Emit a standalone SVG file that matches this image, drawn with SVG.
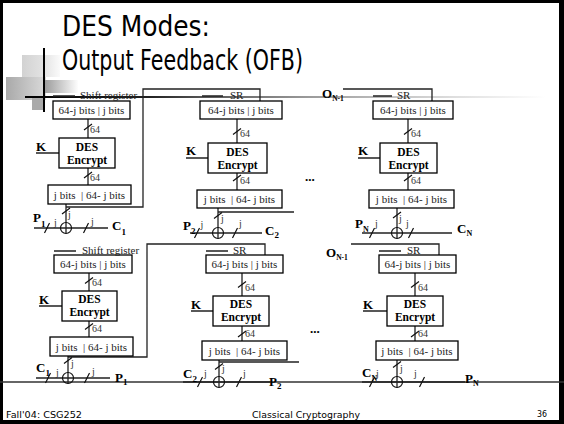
<svg xmlns="http://www.w3.org/2000/svg" width="564" height="424" viewBox="0 0 564 424">
<defs>
<linearGradient id="hl" gradientUnits="userSpaceOnUse" x1="25" y1="0" x2="545" y2="0">
<stop offset="0" stop-color="#000"/><stop offset="0.24" stop-color="#222"/><stop offset="0.34" stop-color="#555"/><stop offset="0.54" stop-color="#999"/><stop offset="0.82" stop-color="#ddd"/><stop offset="1" stop-color="#fff"/>
</linearGradient>
<linearGradient id="gA" x1="0" y1="0" x2="1" y2="0"><stop offset="0" stop-color="#d2d2d2"/><stop offset="0.55" stop-color="#e2e2e2"/><stop offset="1" stop-color="#fafafa"/></linearGradient>
<linearGradient id="gB" x1="0" y1="0" x2="1" y2="0"><stop offset="0" stop-color="#a9a9a9"/><stop offset="1" stop-color="#dadada"/></linearGradient>
<linearGradient id="gC" x1="0" y1="0" x2="1" y2="0"><stop offset="0" stop-color="#9a9a9a"/><stop offset="1" stop-color="#fdfdfd"/></linearGradient>
</defs>
<style>
.box{fill:#fff;stroke:#000;stroke-width:1.3}
.ln{fill:none;stroke:#222;stroke-width:1.3}
.sl{fill:none;stroke:#111;stroke-width:1.2}
.t{font-family:"Liberation Serif",serif;font-size:11px;fill:#222}
.n{font-family:"Liberation Serif",serif;font-size:10px;fill:#333}
.b{font-family:"Liberation Serif",serif;font-weight:bold;font-size:13px;fill:#000}
.d{font-family:"Liberation Serif",serif;font-weight:bold;font-size:11.5px;fill:#000}
.ttl{font-family:"DejaVu Sans",sans-serif;font-size:28px;fill:#000}
.ft{font-family:"DejaVu Sans",sans-serif;font-size:9.5px;fill:#000}
</style>
<rect x="0" y="0" width="564" height="424" fill="#000"/>
<rect x="3" y="3" width="556" height="417" fill="#fff"/>
<g id="decor">
<rect x="22" y="55" width="38" height="22" fill="url(#gA)"/>
<rect x="6" y="77" width="40" height="23" fill="url(#gB)"/>
<rect x="44" y="80" width="34" height="13" fill="url(#gC)"/>
<rect x="32" y="97" width="13" height="13" fill="#aaa"/>
<line x1="44" y1="48" x2="44" y2="112" stroke="#000" stroke-width="2"/>
<line x1="25" y1="97" x2="545" y2="97" stroke="url(#hl)" stroke-width="1.8"/>
<line x1="0" y1="382" x2="564" y2="382" stroke="#333" stroke-width="1.3"/>
</g>
<text class="ttl" x="62" y="36" textLength="148" lengthAdjust="spacingAndGlyphs">DES Modes:</text>
<text class="ttl" x="62" y="70" textLength="241" lengthAdjust="spacingAndGlyphs">Output Feedback (OFB)</text>
<text class="ft" x="6" y="418" textLength="76" lengthAdjust="spacingAndGlyphs">Fall'04: CSG252</text>
<text class="ft" x="252" y="418" textLength="108" lengthAdjust="spacingAndGlyphs">Classical Cryptography</text>
<text class="ft" x="537" y="417" textLength="10" lengthAdjust="spacingAndGlyphs">36</text>

<g id="connectors">
<path class="ln" d="M53 96H75M88 119V138M88 168V185M36 153H59M66 204V233.5M66 207H143V89H260V101M34 228H108"/>
<path class="sl" d="M84 130L92 124M84 178L92 172M62 214L70 208M44.5 233L49.5 223M83.5 233L88.5 223"/>
<path class="ln" d="M202 96H223M237 119V143M237 173V190M186 158H208M218 208V238.5M218 212H294M190 233H262"/>
<path class="sl" d="M233 134.5L241 128.5M233 181L241 175M214 218.5L222 212.5M194.5 238L199.5 228M232.5 238L237.5 228"/>
<path class="ln" d="M343 89H432V101M373 96H392M408 119V143M408 173V190M358 158H380M397 208V238.5M362 233H452"/>
<path class="sl" d="M404 134.5L412 128.5M404 181L412 175M393 218L401 212M369.5 238L374.5 228M408.5 238L413.5 228"/>
<path class="ln" d="M54 251H76M89 273V291M89 321V337M39 306H62M68 356V383.5M68 357H147V244H265V255M36 378H110"/>
<path class="sl" d="M85 283.5L93 277.5M85 329.5L93 323.5M64 363.5L72 357.5M45.5 383L50.5 373M84.5 383L89.5 373"/>
<path class="ln" d="M206 251H228M242 273V296M242 326V341M191 311H213M219 360V387.5M219 362H299M183 382H270"/>
<path class="sl" d="M238 287.5L246 281.5M238 337L246 331M215 369.5L223 363.5M197.5 387L202.5 377M236.5 387L241.5 377"/>
<path class="ln" d="M351 244H439V255M379 251H401M415 273V296M415 326V341M363 311H387M397 360V387.5M362 382H465"/>
<path class="sl" d="M411 287.5L419 281.5M411 337L419 331M393 367.5L401 361.5M369.5 387L374.5 377M419.5 387L424.5 377"/>
<g class="n">
<text x="90" y="133">64</text><text x="90" y="181">64</text><text x="68" y="218">j</text>
<text x="54" y="226">j</text><text x="91" y="225">j</text>
<text x="240" y="136.5">64</text><text x="240" y="184">64</text><text x="221" y="222">j</text>
<text x="200.5" y="228">j</text><text x="239" y="227">j</text>
<text x="411" y="136.5">64</text><text x="411" y="184">64</text><text x="399" y="222">j</text>
<text x="375" y="227">j</text><text x="406" y="227">j</text>
<text x="92" y="286">64</text><text x="92" y="332">64</text><text x="71" y="367">j</text>
<text x="56" y="376">j</text><text x="92" y="375">j</text>
<text x="245" y="291">64</text><text x="245" y="337">64</text><text x="222" y="372">j</text>
<text x="204" y="377">j</text><text x="243" y="377">j</text>
<text x="418" y="291">64</text><text x="418" y="337">64</text><text x="400" y="372">j</text>
<text x="376" y="377">j</text><text x="414" y="377">j</text>
</g>
</g>

<g id="p1-sr"><rect class="box" x="53" y="101" width="77" height="18"/><text class="t" x="91.5" y="114" text-anchor="middle">64-j bits | j bits</text><text class="t" x="80" y="99">Shift register</text></g>
<g id="p1-des"><rect class="box" x="59" y="138" width="56" height="30"/><text class="d" text-anchor="middle"><tspan x="87" y="150.5">DES</tspan><tspan x="87" y="163.5">Encrypt</tspan></text></g>
<g id="p1-out"><rect class="box" x="48" y="185" width="83" height="19"/><text class="t" x="89.5" y="199" text-anchor="middle" xml:space="preserve">j bits  | 64- j bits</text></g>
<g id="p1-xor"><circle cx="66" cy="228" r="5.5" fill="none" stroke="#111" stroke-width="1.2"/></g>
<g id="p1-labels"><text class="b" x="36" y="151">K</text><text class="b" x="33" y="222">P<tspan font-size="9" dy="5">1</tspan></text><text class="b" x="112" y="230">C<tspan font-size="9" dy="5">1</tspan></text></g>

<g id="p2-sr"><rect class="box" x="200" y="101" width="82" height="18"/><text class="t" x="241" y="114" text-anchor="middle">64-j bits | j bits</text><text class="t" x="230" y="99">SR</text></g>
<g id="p2-des"><rect class="box" x="208" y="143" width="59" height="30"/><text class="d" text-anchor="middle"><tspan x="237.5" y="155.5">DES</tspan><tspan x="237.5" y="168.5">Encrypt</tspan></text></g>
<g id="p2-out"><rect class="box" x="197" y="190" width="85" height="18"/><text class="t" x="239.5" y="203" text-anchor="middle" xml:space="preserve">j bits  | 64- j bits</text></g>
<g id="p2-xor"><circle cx="218" cy="233" r="5.5" fill="none" stroke="#111" stroke-width="1.2"/></g>
<g id="p2-labels"><text class="b" x="186" y="155">K</text><text class="b" x="183" y="230">P<tspan font-size="9" dy="4">2</tspan></text><text class="b" x="265" y="235">C<tspan font-size="9" dy="3">2</tspan></text></g>

<g id="p3-sr"><rect class="box" x="373" y="101" width="80" height="18"/><text class="t" x="413" y="114" text-anchor="middle">64-j bits | j bits</text><text class="t" x="397" y="99">SR</text></g>
<g id="p3-des"><rect class="box" x="380" y="143" width="57" height="30"/><text class="d" text-anchor="middle"><tspan x="408.5" y="155.5">DES</tspan><tspan x="408.5" y="168.5">Encrypt</tspan></text></g>
<g id="p3-out"><rect class="box" x="369" y="190" width="85" height="18"/><text class="t" x="411.5" y="203" text-anchor="middle" xml:space="preserve">j bits  | 64- j bits</text></g>
<g id="p3-xor"><circle cx="397" cy="233" r="5.5" fill="none" stroke="#111" stroke-width="1.2"/></g>
<g id="p3-labels"><text class="b" x="358" y="155">K</text><text class="b" x="322" y="98">O<tspan font-size="7.5" dy="2.5">N-1</tspan></text><text class="b" x="355" y="228">P<tspan font-size="8" dy="4">N</tspan></text><text class="b" x="457" y="233">C<tspan font-size="8" dy="3">N</tspan></text><text class="b" x="305" y="181">...</text></g>

<g id="p4-sr"><rect class="box" x="54" y="255" width="78" height="18"/><text class="t" x="93" y="268" text-anchor="middle">64-j bits | j bits</text><text class="t" x="82" y="254">Shift register</text></g>
<g id="p4-des"><rect class="box" x="62" y="291" width="55" height="30"/><text class="d" text-anchor="middle"><tspan x="89.5" y="303">DES</tspan><tspan x="89.5" y="316">Encrypt</tspan></text></g>
<g id="p4-out"><rect class="box" x="50" y="337" width="83" height="19"/><text class="t" x="91.5" y="350.5" text-anchor="middle" xml:space="preserve">j bits  | 64- j bits</text></g>
<g id="p4-xor"><circle cx="68" cy="378" r="5.5" fill="none" stroke="#111" stroke-width="1.2"/></g>
<g id="p4-labels"><text class="b" x="39" y="303.5">K</text><text class="b" x="36" y="372">C<tspan font-size="9" dy="4">1</tspan></text><text class="b" x="115" y="382">P<tspan font-size="9" dy="3">1</tspan></text></g>

<g id="p5-sr"><rect class="box" x="206" y="255" width="77" height="18"/><text class="t" x="244.5" y="268" text-anchor="middle">64-j bits | j bits</text><text class="t" x="233" y="254">SR</text></g>
<g id="p5-des"><rect class="box" x="213" y="296" width="56" height="30"/><text class="d" text-anchor="middle"><tspan x="241" y="308">DES</tspan><tspan x="241" y="321">Encrypt</tspan></text></g>
<g id="p5-out"><rect class="box" x="202" y="341" width="85" height="19"/><text class="t" x="244.5" y="354.5" text-anchor="middle" xml:space="preserve">j bits  | 64- j bits</text></g>
<g id="p5-xor"><circle cx="219" cy="382" r="5.5" fill="none" stroke="#111" stroke-width="1.2"/></g>
<g id="p5-labels"><text class="b" x="191" y="308.5">K</text><text class="b" x="183" y="378">C<tspan font-size="9" dy="4">2</tspan></text><text class="b" x="269" y="386">P<tspan font-size="9" dy="3">2</tspan></text></g>

<g id="p6-sr"><rect class="box" x="379" y="255" width="77" height="18"/><text class="t" x="417.5" y="268" text-anchor="middle">64-j bits | j bits</text><text class="t" x="407" y="254">SR</text></g>
<g id="p6-des"><rect class="box" x="387" y="296" width="56" height="30"/><text class="d" text-anchor="middle"><tspan x="415" y="308">DES</tspan><tspan x="415" y="321">Encrypt</tspan></text></g>
<g id="p6-out"><rect class="box" x="376" y="341" width="82" height="19"/><text class="t" x="417" y="354.5" text-anchor="middle" xml:space="preserve">j bits  | 64- j bits</text></g>
<g id="p6-xor"><circle cx="397" cy="382" r="5.5" fill="none" stroke="#111" stroke-width="1.2"/></g>
<g id="p6-labels"><text class="b" x="363" y="308.5">K</text><text class="b" x="326" y="257">O<tspan font-size="7.5" dy="2.5">N-1</tspan></text><text class="b" x="362" y="377">C<tspan font-size="8" dy="4">N</tspan></text><text class="b" x="465" y="383">P<tspan font-size="8" dy="3">N</tspan></text><text class="b" x="310" y="333">...</text></g>
</svg>
